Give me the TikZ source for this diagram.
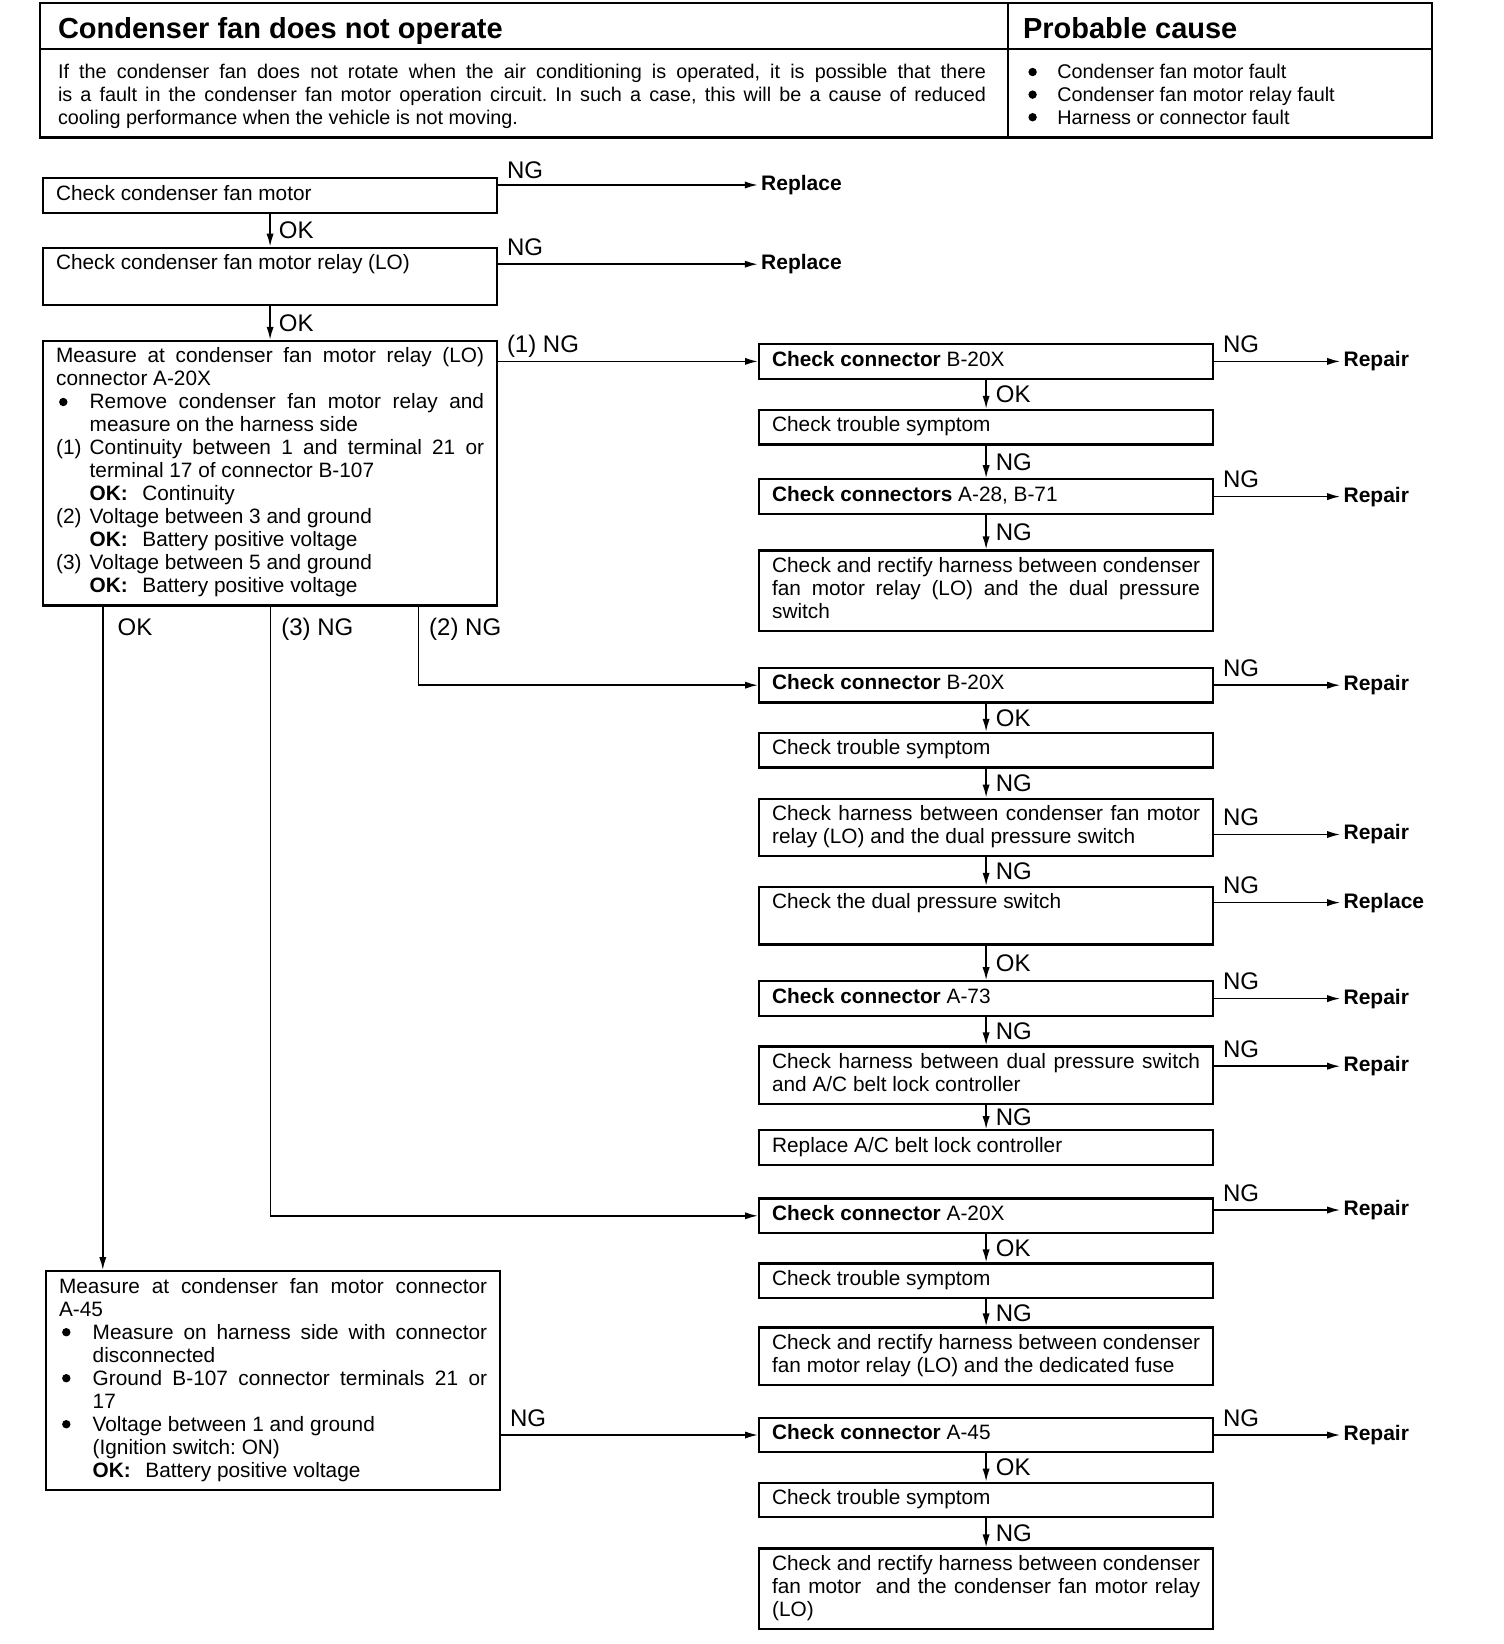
\documentclass[tikz,border=0pt]{standalone}
\usepackage{fontspec}
\setmainfont{Liberation Sans}
\usetikzlibrary{arrows.meta, positioning, calc}
\setlength{\parindent}{0pt}
\setlength{\parskip}{0pt}
\frenchspacing
\newlength{\itemind}
\setlength{\itemind}{16.8pt}
\newcommand{\bdot}{\hspace*{1.5pt}\tikz[baseline=-3.4pt]\fill (0,0) circle (2.1pt);}
\newcommand{\stepitem}[2]{\par\hangindent=\itemind\hangafter=1\noindent\makebox[\itemind][l]{#1}#2}
\newcommand{\okline}[1]{\par\noindent\hspace*{\itemind}\textbf{OK:}\hspace{0.7em}#1}
\newcommand{\causeline}[1]{\makebox[16pt][l]{\bdot}#1}
\newcommand{\fullline}{\parfillskip=0pt\relax}

\begin{document}
\begin{tikzpicture}[
  node distance=14.5pt,
  frame/.style={line width=1.1pt},
  chkbox/.style={draw, line width=1.1pt, text width=214pt, inner xsep=6.5pt, inner ysep=2.9pt, align=justify, font=\fontsize{10.4}{11.5}\selectfont, execute at begin node=\strut, execute at end node=\strut},
  tag/.style={font=\fontsize{12}{12}\selectfont, inner sep=1.5pt, text depth=0pt},
  ngtag/.style={tag, anchor=south west, xshift=2.5pt, yshift=2.5pt},
  footag/.style={tag, anchor=north west, xshift=3.5pt, yshift=-4pt},
  remedy/.style={font=\fontsize{10.5}{12}\selectfont\bfseries, inner sep=1.5pt},
  flow/.style={-{Latex[length=6.5pt,width=3.6pt]}, line width=0.8pt},
  hdtitle/.style={font=\fontsize{14.5}{16}\selectfont\bfseries, inner sep=0pt},
  hdtext/.style={font=\fontsize{9.9}{11.3}\selectfont, inner sep=0pt, align=justify, execute at begin node=\strut}
]
\useasboundingbox (0,0) rectangle (752pt,-822pt);

% header table
\draw[frame] (20pt,-1.6pt) rectangle (716pt,-68.7pt);
\draw[frame] (20pt,-24.6pt) -- (716pt,-24.6pt);
\draw[frame] (504pt,-1.6pt) -- (504pt,-68.7pt);
\node[hdtitle, anchor=base west] (title) at (28.8pt,-19.4pt) {Condenser fan does not operate};
\node[hdtitle, anchor=base west] (causetitle) at (511.3pt,-19.4pt) {Probable cause};
\node[hdtext, text width=464pt, anchor=north west] (desc) at (28.8pt,-31.3pt) {If the condenser fan does not rotate when the air conditioning is operated, it is possible that there\linebreak is a fault in the condenser fan motor operation circuit. In such a case, this will be a cause of reduced\linebreak cooling performance when the vehicle is not moving.};
\node[hdtext, text width=195pt, anchor=north west] (causes) at (512.5pt,-31.3pt) {\causeline{Condenser fan motor fault}\newline\causeline{Condenser fan motor relay fault}\newline\causeline{Harness or connector fault}};

% left column
\node[chkbox, anchor=north west] (motor) at (21pt,-88.6pt) {Check condenser fan motor};
\node[chkbox, below=16.3pt of motor] (relay) {Check condenser fan motor relay (LO)\newline\strut};
\node[chkbox, below=16.7pt of relay] (relaymeas) {Measure at condenser fan motor relay (LO)\linebreak connector A-20X
\stepitem{\bdot}{Remove condenser fan motor relay and\linebreak measure on the harness side}
\stepitem{(1)}{Continuity between 1 and terminal 21 or\linebreak terminal 17 of connector B-107}
\okline{Continuity}
\stepitem{(2)}{Voltage between 3 and ground}
\okline{Battery positive voltage}
\stepitem{(3)}{Voltage between 5 and ground}
\okline{Battery positive voltage}};
\node[chkbox, below=331.7pt of relaymeas, xshift=1.5pt] (motormeas) {Measure at condenser fan motor connector\linebreak A-45
\stepitem{\bdot}{Measure on harness side with connector\linebreak disconnected}
\stepitem{\bdot}{Ground B-107 connector terminals 21 or\linebreak 17}
\stepitem{\bdot}{Voltage between 1 and ground\newline (Ignition switch: ON)}
\okline{Battery positive voltage}};

\node[remedy, right=129.8pt of motor.north east, yshift=-3.9pt] (rep1) {Replace};
\node[remedy, right=129.8pt of relay.north east, yshift=-8.8pt] (rep2) {Replace};
\draw[flow] (motor.east |- rep1.west) -- (rep1.west) node[ngtag, pos=0, yshift=-1pt] {NG};
\draw[flow] (relay.east |- rep2.west) -- (rep2.west) node[ngtag, pos=0] {NG};
\draw[flow] (motor) -- (relay) node[tag, midway, right=2.5pt] {OK};
\draw[flow] (relay) -- (relaymeas) node[tag, midway, right=2.5pt] {OK};

% right column
\node[chkbox, anchor=north west] (conB1) at (379pt,-171.5pt) {\textbf{Check connector} B-20X};
\node[chkbox, below=of conB1] (sympB1) {Check trouble symptom};
\node[chkbox, below=16.3pt of sympB1] (conAB) {\textbf{Check connectors} A-28, B-71};
\node[chkbox, below=17.2pt of conAB] (harnB1) {Check and rectify harness between condenser\linebreak fan motor relay (LO) and the dual pressure\linebreak switch};
\node[chkbox, below=17.3pt of harnB1] (conB2) {\textbf{Check connector} B-20X};
\node[chkbox, below=14.1pt of conB2] (sympB2) {Check trouble symptom};
\node[chkbox, below=of sympB2] (harnB2) {Check harness between condenser fan motor\linebreak relay (LO) and the dual pressure switch};
\node[chkbox, below=14.2pt of harnB2] (dualsw) {Check the dual pressure switch\newline\strut};
\node[chkbox, below=17.3pt of dualsw] (conA73) {\textbf{Check connector} A-73};
\node[chkbox, below=14.2pt of conA73] (harnAC) {Check harness between dual pressure switch\linebreak and A/C belt lock controller};
\node[chkbox, below=12pt of harnAC] (acctrl) {Replace A/C belt lock controller};
\node[chkbox, below=15.7pt of acctrl] (conA20) {\textbf{Check connector} A-20X};
\node[chkbox, below=14.1pt of conA20] (sympA20) {Check trouble symptom};
\node[chkbox, below=13.6pt of sympA20] (harnfuse) {Check and rectify harness between condenser\linebreak fan motor relay (LO) and the dedicated fuse\fullline};
\node[chkbox, below=15.2pt of harnfuse] (conA45) {\textbf{Check connector} A-45};
\node[chkbox, below=14.1pt of conA45] (sympA45) {Check trouble symptom};
\node[chkbox, below=of sympA45] (harnmotor) {Check and rectify harness between condenser\linebreak fan motor\ \ and the condenser fan motor relay\linebreak (LO)};

% remedies on the right
\node[remedy, right=63pt of conB1] (rep3) {Repair};
\node[remedy, right=63pt of conAB] (rep4) {Repair};
\node[remedy, right=63pt of conB2] (rep5) {Repair};
\node[remedy, right=63pt of harnB2, yshift=-3.5pt] (rep6) {Repair};
\node[remedy, right=63pt of dualsw.north east, yshift=-8.4pt] (rep7) {Replace};
\node[remedy, right=63pt of conA73] (rep8) {Repair};
\node[remedy, right=63pt of harnAC.north east, yshift=-10.4pt] (rep9) {Repair};
\node[remedy, right=63pt of conA20, yshift=2.9pt] (rep10) {Repair};
\node[remedy, right=63pt of conA45] (rep11) {Repair};

\foreach \src/\dst in {conB1/rep3, conAB/rep4, conB2/rep5, harnB2/rep6, dualsw/rep7, conA73/rep8, harnAC/rep9, conA20/rep10, conA45/rep11}
  \draw[flow] (\src.east |- \dst.west) -- (\dst.west) node[ngtag, pos=0] {NG};

% downward steps
\draw[flow] (conB1) -- (sympB1) node[tag, midway, right=3pt] {OK};
\draw[flow] (sympB1) -- (conAB) node[tag, midway, right=3pt] {NG};
\draw[flow] (conAB) -- (harnB1) node[tag, midway, right=3pt] {NG};
\draw[flow] (conB2) -- (sympB2) node[tag, midway, right=3pt] {OK};
\draw[flow] (sympB2) -- (harnB2) node[tag, midway, right=3pt] {NG};
\draw[flow] (harnB2) -- (dualsw) node[tag, midway, right=3pt] {NG};
\draw[flow] (dualsw) -- (conA73) node[tag, midway, right=3pt] {OK};
\draw[flow] (conA73) -- (harnAC) node[tag, midway, right=3pt] {NG};
\draw[flow] (harnAC) -- (acctrl) node[tag, midway, right=3pt] {NG};
\draw[flow] (conA20) -- (sympA20) node[tag, midway, right=3pt] {OK};
\draw[flow] (sympA20) -- (harnfuse) node[tag, midway, right=3pt] {NG};
\draw[flow] (conA45) -- (sympA45) node[tag, midway, right=3pt] {OK};
\draw[flow] (sympA45) -- (harnmotor) node[tag, midway, right=3pt] {NG};

% branches out of the relay connector measurement
\coordinate (okfoot) at ([xshift=30.4pt]relaymeas.south west);
\coordinate (ng3foot) at ([xshift=114.3pt]relaymeas.south west);
\coordinate (ng2foot) at ([xshift=188.2pt]relaymeas.south west);
\draw[flow] (relaymeas.east |- conB1.west) -- (conB1.west) node[ngtag, pos=0] {(1) NG};
\draw[flow] (okfoot) -- (okfoot |- motormeas.north) node[footag, pos=0, xshift=2pt] {OK};
\draw[flow] (ng3foot) |- (conA20.west) node[footag, pos=0] {(3) NG};
\draw[flow] (ng2foot) |- (conB2.west) node[footag, pos=0] {(2) NG};
\draw[flow] (motormeas.east |- conA45.west) -- (conA45.west) node[ngtag, pos=0] {NG};
\end{tikzpicture}
\end{document}
